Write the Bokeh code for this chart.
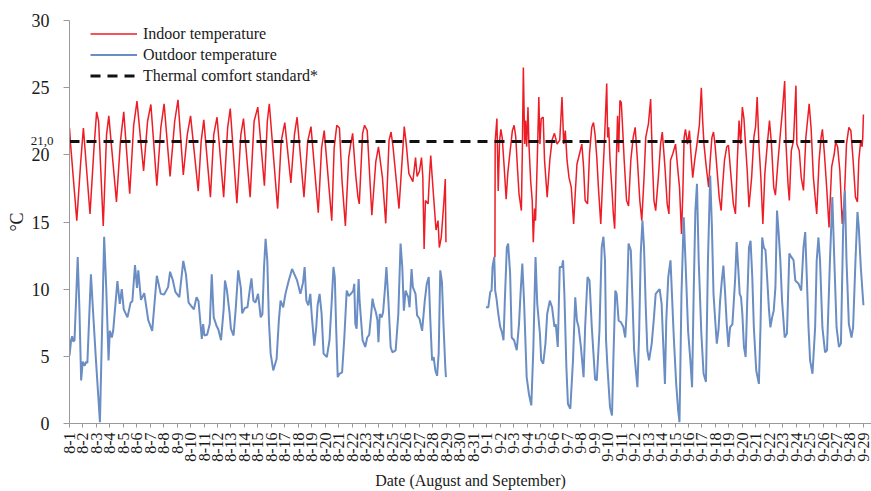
import math
import numpy as np
from bokeh.plotting import figure
from bokeh.models import Range1d, FixedTicker, LinearAxis
from bokeh.embed import file_html
from bokeh.resources import INLINE

# ---------------- data ----------------
months = [("8", 31), ("9", 30)]
date_labels = [f"{m}-{d}" for m, n in months for d in range(1, n + 1)]  # 8-1 ... 9-30
last_shown_day = 59          # 9-29 is the last date visible in the chart
comfort_standard = 21.0

# Readings (time, temperature degC).  Time was read on a grid where 60 units
# span the 59 days 8-1 00:00 ... 9-29 00:00; READ_TO_DAYS converts it to days.
READ_TO_DAYS = 59 / 60

indoor_aug = [
    (0.0, 22.0), (0.08, 20.8), (0.55, 15.1), (0.85, 19.5), (1.05, 22.0), (1.55, 15.6),
    (1.85, 20.5), (2.05, 23.2), (2.2, 22.5), (2.55, 14.7), (2.8, 21.5), (2.97, 22.9),
    (3.55, 16.5), (3.85, 21.0), (4.1, 23.2), (4.55, 17.1), (4.85, 22.2), (5.1, 24.0),
    (5.6, 18.8), (5.9, 22.5), (6.15, 23.75), (6.6, 17.7), (6.9, 22.0), (7.15, 23.8),
    (7.6, 18.4), (7.95, 22.5), (8.2, 24.1), (8.6, 18.5), (8.9, 21.5), (9.15, 22.9),
    (9.73, 17.3), (9.95, 21.0), (10.15, 22.6), (10.65, 16.85), (10.9, 21.5), (11.15, 22.8),
    (11.65, 16.85), (11.95, 22.0), (12.15, 23.45), (12.65, 16.4), (12.95, 21.5), (13.15, 22.7),
    (13.65, 16.85), (13.95, 22.5), (14.23, 23.55), (14.73, 17.7), (14.95, 22.5), (15.1, 23.8),
    (15.73, 16.0), (16.0, 21.0), (16.27, 22.4), (16.73, 17.9), (17.0, 21.5), (17.2, 22.8),
    (17.72, 16.85), (18.0, 21.0), (18.25, 22.1), (18.8, 15.7), (19.05, 20.5), (19.25, 21.8),
    (19.82, 15.1), (20.0, 20.5), (20.2, 22.2), (20.4, 22.0), (20.6, 18.0), (20.85, 14.7),
    (21.1, 19.8), (21.25, 20.8), (21.4, 21.6), (21.55, 19.5), (21.65, 18.3), (21.8, 16.85),
    (21.9, 16.35), (22.15, 21.6), (22.3, 22.2), (22.5, 21.8), (22.85, 15.5), (23.15, 19.5),
    (23.35, 20.6), (23.65, 18.3), (23.9, 14.9), (24.15, 21.1), (24.3, 21.7), (24.45, 20.6),
    (24.9, 16.0), (25.15, 19.8), (25.3, 22.1), (25.45, 20.8), (25.65, 18.6), (25.95, 18.0),
    (26.15, 19.8), (26.27, 18.4), (26.45, 18.8), (26.6, 19.8), (26.7, 18.4), (26.8, 13.0),
    (26.9, 16.6), (27.1, 16.35), (27.2, 18.3), (27.3, 19.95), (27.4, 18.5), (27.5, 17.1),
    (27.7, 14.4), (27.85, 15.1), (27.95, 13.1), (28.1, 13.9), (28.3, 16.6), (28.4, 18.2),
    (28.45, 13.5),
]

indoor_sep = [
    (32.15, 12.4), (32.17, 21.0), (32.3, 22.7), (32.4, 17.3), (32.5, 21.0), (32.6, 21.9),
    (32.7, 21.3), (32.85, 19.1), (33.0, 16.7), (33.12, 18.6), (33.3, 20.3), (33.47, 21.8),
    (33.6, 22.2), (33.72, 21.4), (33.85, 19.1), (33.97, 17.1), (34.15, 15.85), (34.22, 20.1),
    (34.3, 26.5), (34.4, 20.8), (34.47, 22.55), (34.55, 20.6), (34.65, 23.55), (34.72, 20.8),
    (34.85, 18.1), (34.97, 16.6), (35.05, 13.5), (35.15, 16.0), (35.22, 15.1), (35.35, 19.6),
    (35.47, 24.3), (35.55, 20.8), (35.65, 22.7), (35.8, 22.8), (35.9, 19.6), (36.1, 16.85),
    (36.3, 19.6), (36.47, 21.1), (36.65, 21.6), (36.85, 20.8), (37.05, 21.1), (37.22, 24.3),
    (37.35, 20.8), (37.47, 21.8), (37.6, 19.6), (37.75, 18.3), (37.92, 17.6), (38.1, 14.85),
    (38.22, 17.1), (38.35, 19.3), (38.55, 20.1), (38.72, 20.8), (38.85, 19.1), (38.97, 16.6),
    (39.15, 16.35), (39.3, 20.1), (39.47, 22.05), (39.6, 22.4), (39.72, 21.5), (39.85, 19.8),
    (39.97, 17.6), (40.15, 14.85), (40.3, 18.3), (40.42, 20.8), (40.6, 25.3), (40.67, 21.3),
    (40.75, 22.05), (40.85, 19.6), (41.0, 17.35), (41.1, 15.6), (41.2, 14.5), (41.3, 18.6),
    (41.42, 22.9), (41.5, 20.2), (41.6, 24.05), (41.7, 23.9), (41.8, 22.05), (41.92, 19.6),
    (42.1, 16.6), (42.25, 16.2), (42.42, 19.6), (42.6, 21.3), (42.75, 22.05), (42.92, 19.6),
    (43.1, 16.6), (43.25, 15.1), (43.42, 18.3), (43.55, 21.3), (43.75, 22.3), (43.92, 24.15),
    (44.05, 19.6), (44.17, 16.6), (44.3, 15.85), (44.5, 18.3), (44.67, 20.8), (44.8, 21.7),
    (45.0, 19.1), (45.17, 16.35), (45.3, 15.6), (45.42, 19.6), (45.6, 20.1), (45.8, 20.8),
    (46.0, 18.6), (46.1, 17.6), (46.25, 14.1), (46.35, 17.1), (46.45, 21.3), (46.55, 21.9),
    (46.7, 20.8), (46.85, 21.8), (47.0, 19.6), (47.1, 18.3), (47.25, 19.6), (47.42, 20.8),
    (47.6, 22.2), (47.75, 25.0), (47.85, 22.55), (47.95, 20.8), (48.1, 19.3), (48.3, 17.6),
    (48.42, 19.6), (48.55, 21.3), (48.67, 21.7), (48.8, 20.6), (48.92, 19.1), (49.1, 16.85),
    (49.25, 15.85), (49.35, 17.6), (49.5, 19.6), (49.67, 20.6), (49.8, 20.7), (50.0, 18.3),
    (50.17, 16.35), (50.33, 15.6), (50.47, 19.6), (50.6, 22.55), (50.72, 20.8), (50.85, 23.55),
    (50.97, 22.7), (51.1, 20.6), (51.22, 18.8), (51.35, 16.1), (51.55, 18.3), (51.72, 21.3),
    (51.85, 22.1), (51.97, 24.3), (52.1, 20.8), (52.25, 18.3), (52.4, 14.85), (52.55, 18.6),
    (52.72, 20.6), (52.9, 22.55), (53.05, 20.8), (53.22, 17.6), (53.35, 17.0), (53.55, 19.6),
    (53.72, 21.55), (53.9, 23.55), (54.05, 25.5), (54.15, 20.8), (54.3, 17.85), (54.4, 16.6),
    (54.55, 20.3), (54.72, 21.1), (54.9, 25.15), (54.97, 20.8), (55.15, 20.3), (55.3, 18.3),
    (55.47, 17.35), (55.65, 21.3), (55.8, 22.8), (55.9, 23.8), (56.05, 21.9), (56.22, 18.3),
    (56.35, 16.85), (56.47, 15.6), (56.65, 19.6), (56.8, 21.3), (56.9, 21.9), (57.05, 20.1),
    (57.22, 17.6), (57.4, 14.6), (57.6, 19.1), (57.8, 20.1), (57.9, 20.95), (58.05, 20.6),
    (58.22, 18.8), (58.4, 14.85), (58.55, 16.6), (58.72, 20.8), (58.9, 22.05), (59.05, 21.8),
    (59.22, 19.6), (59.4, 16.85), (59.55, 16.5), (59.65, 19.6), (59.8, 21.1), (59.9, 20.6),
    (59.95, 21.3), (60.0, 23.0),
]

outdoor_aug = [
    (0.0, 5.06), (0.12, 6.2), (0.2, 6.5), (0.28, 6.1), (0.38, 6.2), (0.62, 12.4), (0.75, 8.5),
    (0.88, 3.2), (1.0, 4.6), (1.15, 4.3), (1.25, 4.6), (1.35, 4.5), (1.62, 11.1), (1.8, 8.0),
    (2.0, 4.7), (2.3, 0.1), (2.62, 13.9), (2.78, 10.0), (2.95, 4.7), (3.05, 6.9), (3.2, 6.4),
    (3.3, 6.9), (3.62, 10.6), (3.8, 8.9), (3.95, 10.0), (4.1, 8.5), (4.38, 7.9), (4.62, 9.0),
    (4.75, 9.1), (4.95, 11.8), (5.1, 10.1), (5.2, 11.4), (5.4, 9.2), (5.65, 9.7), (5.95, 7.7),
    (6.25, 6.9), (6.6, 11.0), (6.9, 9.65), (7.15, 9.6), (7.45, 10.15), (7.6, 11.3), (7.8, 10.7),
    (8.0, 9.8), (8.3, 9.4), (8.6, 12.1), (8.8, 11.1), (9.0, 9.0), (9.4, 8.5), (9.6, 9.4),
    (9.75, 9.1), (10.0, 6.3), (10.1, 7.4), (10.2, 6.55), (10.4, 6.6), (10.6, 7.4), (10.75, 11.1),
    (10.9, 7.9), (11.1, 7.3), (11.25, 7.0), (11.45, 6.2), (11.65, 8.5), (11.75, 10.65),
    (11.9, 9.9), (12.1, 8.2), (12.2, 7.05), (12.4, 6.55), (12.57, 8.65), (12.75, 11.4),
    (12.95, 10.1), (13.05, 8.2), (13.25, 8.6), (13.45, 8.65), (13.65, 10.15), (13.75, 10.8),
    (13.9, 9.15), (14.05, 9.0), (14.25, 9.65), (14.45, 7.9), (14.58, 8.15), (14.7, 11.6),
    (14.82, 13.75), (14.95, 12.1), (15.07, 7.65), (15.2, 5.2), (15.4, 3.95), (15.65, 4.8),
    (15.82, 7.65), (15.95, 9.15), (16.15, 8.65), (16.32, 9.65), (16.57, 10.65), (16.82, 11.5),
    (17.0, 11.1), (17.2, 10.65), (17.45, 9.65), (17.65, 10.5), (17.77, 11.65), (17.9, 9.15),
    (18.05, 8.8), (18.2, 9.65), (18.3, 8.15), (18.5, 5.8), (18.65, 7.2), (18.75, 8.8),
    (18.9, 9.65), (19.05, 8.2), (19.2, 5.2), (19.45, 4.95), (19.65, 6.2), (19.82, 9.15),
    (19.95, 11.65), (20.05, 10.9), (20.15, 7.2), (20.27, 3.45), (20.4, 3.7), (20.6, 3.8),
    (20.77, 6.4), (20.95, 9.9), (21.1, 9.5), (21.27, 9.65), (21.45, 9.9), (21.52, 10.4),
    (21.6, 7.4), (21.7, 7.05), (21.78, 9.2), (21.85, 10.75), (21.92, 9.2), (22.0, 8.15),
    (22.15, 6.2), (22.35, 5.7), (22.5, 6.4), (22.65, 6.6), (22.8, 8.15), (22.9, 9.3),
    (23.02, 8.7), (23.15, 8.3), (23.27, 7.7), (23.35, 6.05), (23.45, 8.15), (23.6, 7.9),
    (23.7, 8.3), (23.85, 10.15), (23.95, 11.65), (24.1, 9.15), (24.27, 5.7), (24.4, 5.3),
    (24.65, 5.45), (24.85, 8.15), (25.02, 13.4), (25.15, 11.65), (25.27, 8.4), (25.4, 9.9),
    (25.6, 9.4), (25.7, 8.65), (25.85, 11.5), (25.95, 10.15), (26.15, 9.65), (26.27, 8.05),
    (26.45, 7.8), (26.65, 6.9), (26.85, 9.15), (27.0, 10.4), (27.15, 10.9), (27.27, 7.65),
    (27.4, 4.7), (27.52, 4.95), (27.65, 3.95), (27.78, 3.55), (27.9, 5.2), (28.02, 11.4),
    (28.15, 10.5), (28.27, 7.2), (28.4, 4.2), (28.45, 3.45),
]

outdoor_sep = [
    (31.47, 8.65), (31.65, 8.65), (31.8, 9.8), (31.9, 9.9), (31.97, 11.65), (32.1, 12.4),
    (32.17, 9.9), (32.27, 9.3), (32.4, 8.2), (32.55, 7.2), (32.68, 6.8), (32.8, 6.2),
    (32.9, 9.15), (33.05, 13.1), (33.15, 13.4), (33.3, 11.15), (33.42, 6.4), (33.6, 6.2),
    (33.8, 5.45), (33.97, 7.4), (34.1, 9.9), (34.22, 11.9), (34.35, 9.15), (34.55, 3.45),
    (34.72, 2.2), (34.9, 1.35), (35.05, 5.45), (35.22, 12.4), (35.35, 8.9), (35.55, 6.7),
    (35.65, 4.7), (35.8, 4.45), (35.97, 5.95), (36.1, 8.15), (36.3, 9.15), (36.47, 8.65),
    (36.65, 7.2), (36.75, 7.4), (36.9, 5.7), (37.05, 11.65), (37.22, 11.65), (37.3, 12.15),
    (37.4, 9.65), (37.55, 4.2), (37.67, 1.45), (37.85, 1.1), (38.05, 4.7), (38.22, 9.4),
    (38.35, 7.65), (38.47, 7.2), (38.65, 5.7), (38.85, 3.45), (38.97, 7.2), (39.15, 10.9),
    (39.3, 10.65), (39.47, 7.2), (39.72, 3.3), (39.85, 3.2), (40.05, 6.9), (40.22, 13.1),
    (40.35, 13.9), (40.47, 12.15), (40.55, 6.2), (40.67, 3.95), (40.85, 1.2), (41.0, 0.6),
    (41.1, 4.7), (41.25, 9.9), (41.35, 9.65), (41.5, 7.65), (41.67, 7.55), (41.85, 7.2),
    (42.0, 6.4), (42.1, 8.15), (42.25, 13.4), (42.42, 12.9), (42.55, 9.15), (42.67, 5.45),
    (42.8, 3.95), (42.92, 2.7), (43.05, 6.7), (43.17, 12.65), (43.3, 15.1), (43.42, 13.1),
    (43.55, 8.65), (43.67, 5.45), (43.8, 4.7), (44.0, 5.95), (44.17, 7.9), (44.3, 9.65),
    (44.5, 9.9), (44.6, 10.0), (44.75, 8.9), (44.85, 6.4), (45.0, 2.95), (45.1, 7.65),
    (45.25, 10.9), (45.42, 12.15), (45.55, 9.15), (45.67, 6.4), (45.85, 2.95), (46.0, 0.95),
    (46.1, 0.1), (46.25, 9.65), (46.42, 15.35), (46.55, 12.15), (46.75, 6.9), (46.92, 4.7),
    (47.05, 2.7), (47.17, 9.65), (47.3, 15.85), (47.42, 17.85), (47.55, 12.15), (47.75, 6.7),
    (47.92, 3.7), (48.1, 3.1), (48.25, 12.15), (48.42, 18.45), (48.55, 14.6), (48.67, 9.65),
    (48.8, 7.65), (48.92, 5.95), (49.05, 7.0), (49.17, 9.15), (49.3, 10.65), (49.42, 11.75),
    (49.55, 9.65), (49.67, 7.4), (49.8, 5.7), (49.92, 7.15), (50.1, 7.4), (50.3, 10.65),
    (50.42, 13.5), (50.55, 11.4), (50.65, 9.65), (50.75, 9.4), (50.85, 8.15), (50.97, 5.7),
    (51.1, 4.95), (51.22, 9.15), (51.35, 13.1), (51.47, 13.6), (51.6, 10.9), (51.72, 7.15),
    (51.9, 3.95), (52.1, 2.95), (52.22, 7.15), (52.35, 13.85), (52.47, 13.1), (52.6, 12.9),
    (52.72, 10.9), (52.85, 8.65), (52.97, 7.15), (53.1, 7.9), (53.22, 8.4), (53.35, 10.15),
    (53.47, 15.85), (53.6, 14.1), (53.72, 12.15), (53.85, 9.15), (54.05, 6.4), (54.22, 6.7),
    (54.4, 12.65), (54.55, 12.4), (54.72, 12.15), (54.85, 10.65), (55.1, 10.4), (55.3, 9.9),
    (55.47, 13.1), (55.6, 14.25), (55.72, 10.9), (55.85, 7.15), (55.97, 4.7), (56.15, 3.7),
    (56.35, 7.15), (56.47, 12.15), (56.6, 13.85), (56.72, 12.15), (56.9, 7.15), (57.1, 5.3),
    (57.25, 5.45), (57.47, 12.15), (57.65, 16.85), (57.8, 12.15), (57.97, 7.15), (58.15, 5.7),
    (58.3, 5.95), (58.47, 14.6), (58.6, 17.35), (58.72, 12.15), (58.9, 7.4), (59.1, 6.4),
    (59.22, 7.15), (59.4, 12.15), (59.55, 15.75), (59.65, 14.6), (59.8, 11.65), (60.0, 8.8),
]

y_ticks = [0, 5, 10, 15, 20, 25, 30]


def join_segments(*segments):
    """Concatenate measurement periods (time converted to days), NaN-separated so the line breaks."""
    xs, ys = [], []
    for i, seg in enumerate(segments):
        if i:
            xs.append(np.nan)
            ys.append(np.nan)
        xs += [t * READ_TO_DAYS for t, _ in seg]
        ys += [v for _, v in seg]
    return xs, ys


in_x, in_y = join_segments(indoor_aug, indoor_sep)
out_x, out_y = join_segments(outdoor_aug, outdoor_sep)
std_x = [0, last_shown_day]
std_y = [comfort_standard, comfort_standard]

# ---------------- figure ----------------
SERIF = "Liberation Serif"
AXIS_GREY = "#9a9a9a"
TEXT = "#1a1a1a"

p = figure(
    width=871, height=491,
    x_range=Range1d(0, last_shown_day + 0.6), y_range=Range1d(y_ticks[0], y_ticks[-1]),
    output_backend="svg", toolbar_location=None,
    min_border_left=69, min_border_right=0, min_border_top=20, min_border_bottom=68,
)
p.outline_line_color = None
p.xgrid.visible = False
p.ygrid.visible = False
p.background_fill_color = "white"
p.border_fill_color = "white"

# lines
p.line(in_x, in_y, line_color="#ee1c25", line_width=1.5, legend_label="Indoor temperature")
p.line(out_x, out_y, line_color="#6a8dc3", line_width=2.0, legend_label="Outdoor temperature")
p.line(std_x, std_y, line_color="#111111", line_width=3, line_dash="10 7",
       legend_label="Thermal comfort standard*")

# x axis
xa = p.xaxis[0]
xa.ticker = FixedTicker(ticks=list(range(len(date_labels))))
xa.major_label_overrides = {i: lab for i, lab in enumerate(date_labels)}
xa.major_label_orientation = math.pi / 2
xa.major_label_text_font = SERIF
xa.major_label_text_font_size = "16px"
xa.major_label_text_color = TEXT
xa.major_label_standoff = 5
xa.major_tick_out = 4
xa.major_tick_in = 0
xa.minor_tick_out = 0
xa.minor_tick_in = 0
xa.axis_line_color = AXIS_GREY
xa.major_tick_line_color = AXIS_GREY
xa.axis_label = "Date (August and September)"
xa.axis_label_text_font = SERIF
xa.axis_label_text_font_size = "16px"
xa.axis_label_text_font_style = "normal"
xa.axis_label_text_color = TEXT
xa.axis_label_standoff = 7

# y axis
ya = p.yaxis[0]
ya.ticker = FixedTicker(ticks=y_ticks)
ya.major_label_text_font = SERIF
ya.major_label_text_font_size = "18px"
ya.major_label_text_color = TEXT
ya.major_label_standoff = 14
ya.major_tick_out = 6
ya.major_tick_in = 0
ya.minor_tick_out = 0
ya.minor_tick_in = 0
ya.axis_line_color = AXIS_GREY
ya.major_tick_line_color = AXIS_GREY

# second (label-only) left axis: marks the comfort standard value and carries the unit title
std_axis = LinearAxis(
    ticker=FixedTicker(ticks=[comfort_standard]),
    major_label_overrides={comfort_standard: f"{comfort_standard:.1f}".replace(".", ",")},
    axis_line_color=None, major_tick_line_color=None, minor_tick_line_color=None,
    major_tick_out=0, major_tick_in=0, minor_tick_out=0, minor_tick_in=0,
    major_label_standoff=-25,
    major_label_text_font=SERIF, major_label_text_font_size="13px", major_label_text_color=TEXT,
    axis_label="°C", axis_label_standoff=1,
    axis_label_text_font=SERIF, axis_label_text_font_size="18px",
    axis_label_text_font_style="normal", axis_label_text_color=TEXT,
)
p.add_layout(std_axis, "left")

# legend
lg = p.legend[0]
lg.location = (21, 337)
lg.glyph_width = 47
lg.glyph_height = 21
lg.label_height = 21
lg.spacing = 0
lg.padding = 0
lg.margin = 0
lg.label_standoff = 6
lg.border_line_color = None
lg.background_fill_alpha = 0
lg.label_text_font = SERIF
lg.label_text_font_size = "16px"
lg.label_text_color = TEXT

open("out.html", "w").write(file_html(p, INLINE))
